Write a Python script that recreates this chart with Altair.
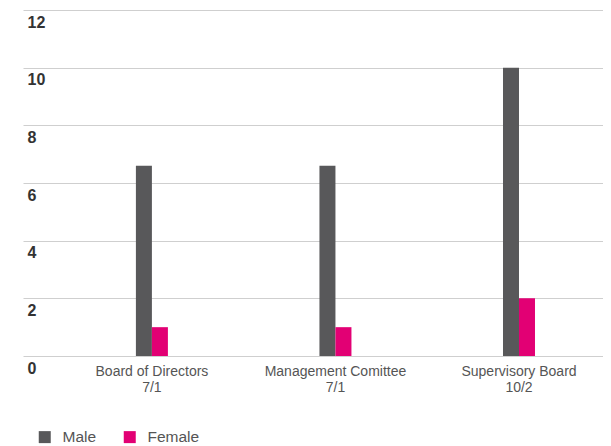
import altair as alt
import pandas as pd

categories = ["Board of Directors", "Management Comittee", "Supervisory Board"]
ratios = ["7/1", "7/1", "10/2"]
male = [6.6, 6.6, 10]
female = [1, 1, 2]
y_ticks = [0, 2, 4, 6, 8, 10, 12]

rows = []
for c, r, m, f in zip(categories, ratios, male, female):
    lab = c + "|" + r
    rows.append({"cat": lab, "gender": "Male", "value": m})
    rows.append({"cat": lab, "gender": "Female", "value": f})
df = pd.DataFrame(rows)

chart = alt.Chart(df).mark_bar().encode(
    x=alt.X("cat:N", sort=[c + "|" + r for c, r in zip(categories, ratios)], title=None,
            scale=alt.Scale(paddingInner=0.2, paddingOuter=0.18, align=0.84),
            axis=alt.Axis(labelAngle=0, domain=False, ticks=False, labelPadding=8,
                          labelExpr="split(datum.label, '|')", labelFontSize=14,
                          labelFont="Liberation Sans",
                          labelColor="#555555", labelLineHeight=16, labelBaseline="top")),
    xOffset=alt.XOffset("gender:N", sort=["Male", "Female"],
                        scale=alt.Scale(paddingInner=0, paddingOuter=0, range=[57.4, 89.4])),
    y=alt.Y("value:Q", title=None, scale=alt.Scale(domain=[0, 12], nice=False),
            axis=alt.Axis(values=y_ticks, domain=False, ticks=False, gridColor="#cfcfcf",
                          gridWidth=1, labelAlign="left", labelBaseline="top", labelPadding=-4,
                          labelOffset=4, labelFontSize=16, labelFontWeight="bold",
                          labelFont="Liberation Sans", labelColor="#333333")),
    color=alt.Color("gender:N", sort=["Male", "Female"],
                    scale=alt.Scale(domain=["Male", "Female"], range=["#58585a", "#e20074"]),
                    legend=alt.Legend(title=None, orient="none", legendX=14, legendY=419,
                                      direction="horizontal", symbolType="square", symbolSize=144,
                                      symbolStrokeWidth=0, labelFontSize=15.5, labelFont="Liberation Sans",
                                      labelColor="#555555", labelOffset=10, columnPadding=25,
                                      padding=0)),
).properties(
    width=580, height=346,
    padding={"left": 15, "top": 2, "right": 0, "bottom": 0},
).configure_view(stroke=None)

chart.save("out.html", embed_options={"renderer": "svg", "actions": False})
